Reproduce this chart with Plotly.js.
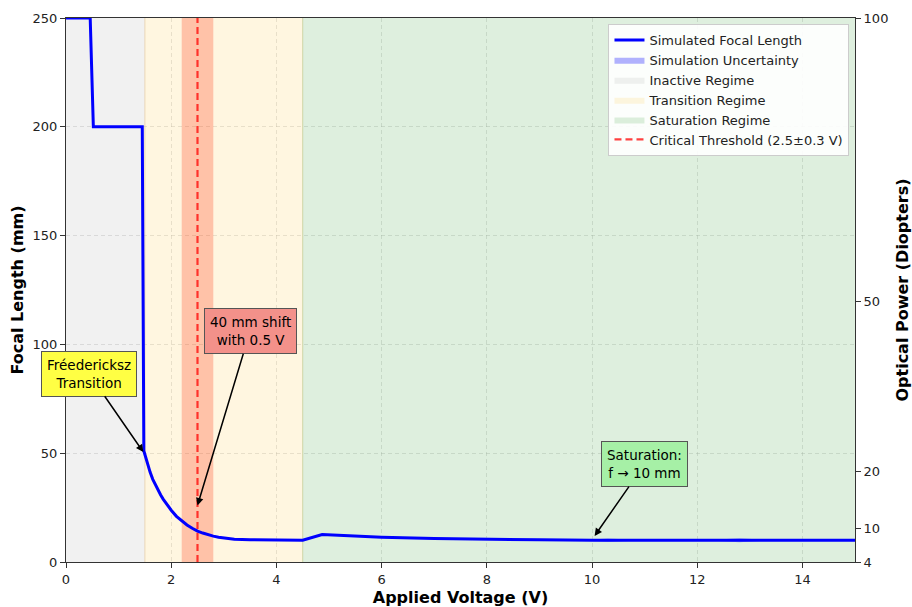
<!DOCTYPE html>
<html>
<head>
<meta charset="utf-8">
<script src="https://cdn.plot.ly/plotly-3.0.1.min.js"></script>
<style>html,body{margin:0;padding:0;background:#fff}#chart{width:912px;height:607px}</style>
</head>
<body>
<div id="chart"></div>
<script>
// ---- data ----
const voltage = [0, 0.25, 0.46, 0.52, 1.0, 1.45, 1.48, 1.52, 1.56, 1.6, 1.65, 1.7, 1.75, 1.8, 1.85, 1.9, 2.0, 2.1, 2.2, 2.3, 2.4, 2.5, 2.6, 2.7, 2.8, 2.9, 3.0, 3.2, 3.5, 4.0, 4.5, 4.87, 5.5, 6.0, 7.0, 8.0, 9.0, 10.0, 10.3, 10.7, 11.5, 12.4, 12.8, 13.2, 14.0, 14.6, 14.9, 15.0];
const focal   = [250, 250, 250, 200, 200, 200, 51, 47.5, 44, 41.2, 38, 35.5, 33, 30.8, 28.8, 27, 23.8, 21, 18.8, 17, 15.5, 14.2, 13.3, 12.5, 11.9, 11.4, 11.0, 10.5, 10.2, 10.0, 10.0, 12.6, 11.9, 11.4, 10.8, 10.4, 10.2, 10.0, 10.0, 10.0, 10.0, 10.0, 10.0, 10.0, 10.0, 10.0, 10.0, 10.0];
const uncertainty = [0.3, 0.3, 0.3, 0.3, 0.3, 0.3, 0.3, 0.3, 0.3, 0.3, 0.3, 0.3, 0.3, 0.3, 0.3, 0.3, 0.3, 0.3, 0.3, 0.3, 0.3, 0.3, 0.3, 0.3, 0.3, 0.3, 0.3, 0.3, 0.3, 0.3, 0.3, 0.3, 0.3, 0.3, 0.3, 0.3, 0.3, 0.3, 0.8, 0.3, 0.3, 0.3, 0.9, 0.3, 0.3, 0.3, 0.6, 0.3];

const regimeNames  = ["Inactive Regime", "Transition Regime", "Saturation Regime"];
const regimeStart  = [0, 1.5, 4.5];
const regimeEnd    = [1.5, 4.5, 15];

const criticalV    = 2.5;
const criticalTol  = 0.3;

const xTicks = [0, 2, 4, 6, 8, 10, 12, 14];
const yTicks = [0, 50, 100, 150, 200, 250];
const powerTicks = [4, 10, 20, 50, 100];

const annText = ["Fréedericksz<br>Transition", "40 mm shift<br>with 0.5 V", "Saturation:<br>f → 10 mm"];
const annPointV = [1.47, 2.5, 10.05];
const annPointF = [50.5, 26, 12];
const annBoxV = [0.44, 3.5, 11.0];
const annBoxF = [86.5, 106, 45];

// ---- styling ----
const regimeFill = ["rgba(128,128,128,0.11)", "rgba(255,180,0,0.12)", "rgba(0,128,0,0.13)"];
const regimeEdge = ["rgba(0,0,0,0)", "rgba(225,195,150,0.6)", "rgba(185,195,130,0.6)"];
const annBg = ["#ffff44", "#f3918a", "#a6f0a6"];
const FONT = "DejaVu Sans, Liberation Sans, sans-serif";

const traces = [];
regimeNames.forEach((name, i) => {
  traces.push({
    x: [regimeStart[i], regimeEnd[i], regimeEnd[i], regimeStart[i], regimeStart[i]],
    y: [0, 0, 250, 250, 0],
    type: "scatter", mode: "lines", fill: "toself",
    fillcolor: regimeFill[i], line: {width: 0},
    name: name, legendrank: 3 + i, hoverinfo: "skip"
  });
});
[1.5, 4.5].forEach((v, i) => {
  traces.push({x: [v, v], y: [0, 250], type: "scatter", mode: "lines",
    line: {color: regimeEdge[i + 1], width: 1}, showlegend: false, hoverinfo: "skip"});
});
traces.push({
  x: [criticalV - criticalTol, criticalV + criticalTol, criticalV + criticalTol, criticalV - criticalTol, criticalV - criticalTol],
  y: [0, 0, 250, 250, 0], type: "scatter", mode: "lines", fill: "toself",
  fillcolor: "rgba(255,40,0,0.25)", line: {width: 0}, showlegend: false, hoverinfo: "skip"
});
const upper = focal.map((f, i) => f + uncertainty[i]);
const lower = focal.map((f, i) => f - uncertainty[i]);
traces.push({x: voltage, y: lower, type: "scatter", mode: "lines", line: {width: 0},
  showlegend: false, hoverinfo: "skip"});
traces.push({x: voltage, y: upper, type: "scatter", mode: "lines", line: {width: 0},
  fill: "tonexty", fillcolor: "rgba(0,0,255,0.3)", name: "Simulation Uncertainty", legendrank: 2});
traces.push({x: voltage, y: focal, type: "scatter", mode: "lines",
  line: {color: "#0000ff", width: 3}, name: "Simulated Focal Length", legendrank: 1});
traces.push({x: [criticalV, criticalV], y: [0, 250], type: "scatter", mode: "lines",
  line: {color: "rgba(255,0,0,0.75)", width: 2.2, dash: "7px,4px"},
  name: "Critical Threshold (2.5±0.3 V)", legendrank: 6});
traces.push({x: [0, 15], y: [4, 100], yaxis: "y2", type: "scatter", mode: "lines",
  line: {width: 0}, opacity: 0, showlegend: false, hoverinfo: "skip"});

const annotations = annText.map((t, i) => ({
  text: t, x: annPointV[i], y: annPointF[i], xref: "x", yref: "y",
  ax: annBoxV[i], ay: annBoxF[i], axref: "x", ayref: "y",
  showarrow: true, arrowhead: 2, arrowsize: 1, arrowwidth: 1.5, arrowcolor: "#000",
  bgcolor: annBg[i], bordercolor: "#555", borderwidth: 1, borderpad: 5,
  font: {family: FONT, size: 13.5, color: "#000"}, align: "center"
}));

const gridCol = "rgba(180,180,180,0.35)";
const layout = {
  width: 912, height: 607,
  margin: {l: 66, r: 57, t: 18, b: 45},
  paper_bgcolor: "#fff", plot_bgcolor: "#fff",
  font: {family: FONT, color: "#222"},
  showlegend: true,
  legend: {x: 0.993, y: 0.989, xanchor: "right", yanchor: "top",
    bgcolor: "rgba(255,255,255,0.9)", bordercolor: "#cccccc", borderwidth: 1,
    font: {family: FONT, size: 13, color: "#222"}, traceorder: "normal", tracegroupgap: 0},
  xaxis: {range: [0, 15], tickvals: xTicks, ticks: "outside", ticklen: 5, tickcolor: "#333",
    showline: true, linecolor: "#333", linewidth: 1, mirror: true, zeroline: false,
    showgrid: true, gridcolor: gridCol, griddash: "4px,3px", gridwidth: 1,
    tickfont: {family: FONT, size: 13, color: "#222"},
    title: {text: "<b>Applied Voltage (V)</b>", font: {family: FONT, size: 16, color: "#000"}, standoff: 8}},
  yaxis: {range: [0, 250], tickvals: yTicks, ticks: "outside", ticklen: 5, tickcolor: "#333",
    showline: true, linecolor: "#333", linewidth: 1, mirror: true, zeroline: false,
    showgrid: true, gridcolor: gridCol, griddash: "4px,3px", gridwidth: 1,
    tickfont: {family: FONT, size: 13, color: "#222"},
    title: {text: "<b>Focal Length (mm)</b>", font: {family: FONT, size: 16, color: "#000"}, standoff: 4}},
  yaxis2: {overlaying: "y", side: "right", range: [4, 100], tickvals: powerTicks,
    ticks: "outside", ticklen: 5, tickcolor: "#333", showline: true, linecolor: "#333",
    showgrid: false, zeroline: false,
    tickfont: {family: FONT, size: 13, color: "#222"},
    title: {text: "<b>Optical Power (Diopters)</b>", font: {family: FONT, size: 16, color: "#000"}, standoff: 10}},
  annotations: annotations
};

Plotly.newPlot("chart", traces, layout, {displayModeBar: false, staticPlot: true});
</script>
</body>
</html>
